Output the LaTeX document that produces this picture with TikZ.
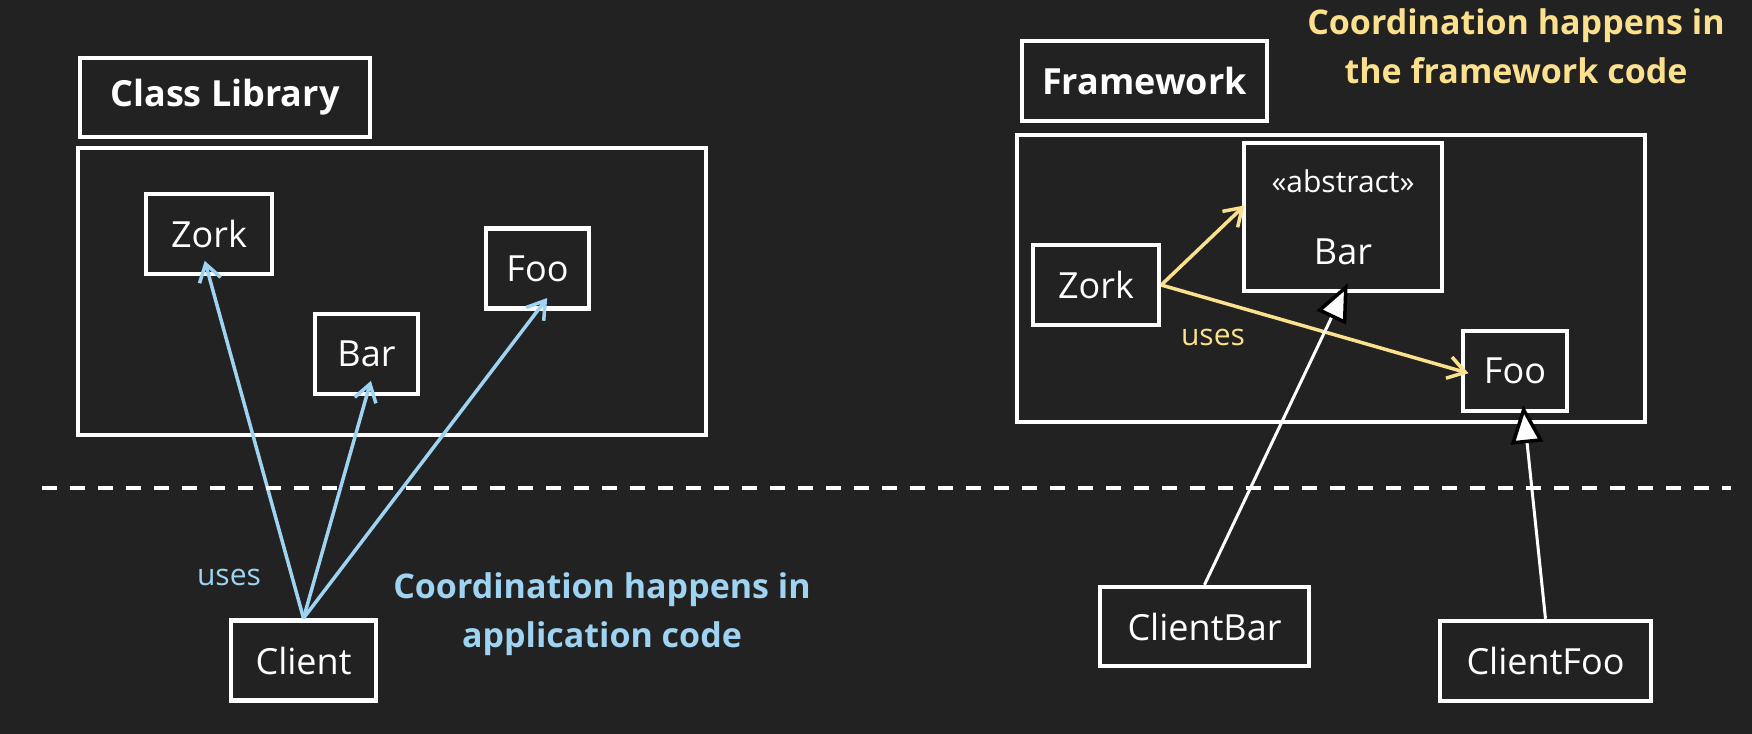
\documentclass[tikz,border=0pt]{standalone}
\usepackage{fontspec}
\setmainfont{Open Sans}
\usetikzlibrary{arrows.meta}
\definecolor{fond}{HTML}{222222}
\definecolor{bleu}{HTML}{9FD3F2}
\definecolor{jaune}{HTML}{FBE08D}
\newcommand{\grand}{\fontsize{18}{22}\selectfont}
\newcommand{\moyen}{\fontsize{17}{24.5}\selectfont}
\newcommand{\petit}{\fontsize{15}{18}\selectfont}

\begin{document}
\begin{tikzpicture}[x=0.5pt,y=-0.5pt,
  boite/.style={draw=white,line width=2.25pt,text=white,inner sep=0pt,minimum height=40pt,font=\grand},
  titre/.style={boite,font=\grand\bfseries},
  usage/.style={line width=1.75pt,-{Straight Barb[length=8.5pt,width=11pt]}},
  herite/.style={white,line width=1.5pt,-{Triangle[length=19pt,width=16pt,fill=white,color=black,line width=1.75pt]}},
  note/.style={font=\moyen\bfseries,align=center}]
\useasboundingbox (0,0) rectangle (1752,734);
\fill[fond] (0,0) rectangle (1752,734);

% Bibliothèque de classes
\node[titre,minimum width=145pt,minimum height=39.5pt] (ltitre) at (225,97.5) {Class Library};
\node[boite,minimum width=314pt,minimum height=143.5pt] (lcadre) at (392,291.5) {};
\node[boite,minimum width=63pt] (lzork) at (209,234) {Zork};
\node[boite,minimum width=51.5pt] (lfoo) at (537.5,268.5) {Foo};
\node[boite,minimum width=51.5pt] (lbar) at (366.5,354) {Bar};
\node[boite,minimum width=72.5pt] (client) at (303.5,660.5) {Client};

% Application
\foreach \cible in {lzork,lbar,lfoo}
  \draw[usage,bleu,shorten >=-8pt] (client.north) -- (\cible.south);
\node[text=bleu,font=\petit] (lusage) at (229,577) {uses};
\node[note,text=bleu] (lnote) at (602,614) {Coordination happens in\\application code};

% Framework
\node[titre,minimum width=122.5pt] (ftitre) at (1144.5,81) {Framework};
\node[boite,minimum width=314pt,minimum height=143.5pt] (fcadre) at (1331,278.5) {};
\node[boite,minimum width=99pt,minimum height=74pt,align=center] (fbar) at (1343,217)
     {{\petit «abstract»}\\[14pt]Bar};
\node[boite,minimum width=63pt] (fzork) at (1096,285) {Zork};
\node[boite,minimum width=52pt] (ffoo) at (1515,371) {Foo};
\node[boite,minimum width=104.5pt,minimum height=39.5pt] (cbar) at (1204.5,626.5) {ClientBar};
\node[boite,minimum width=105.5pt] (cfoo) at (1545.5,661) {ClientFoo};

% Utilisation et héritage
\draw[usage,jaune,shorten >=-2pt] (fzork.east) -- (fbar.175);
\draw[usage,jaune,shorten >=-4pt] (fzork.east) -- (ffoo.west);
\node[text=jaune,font=\petit] (fusage) at (1213,337) {uses};
\draw[herite,shorten >=-5.5pt] (cbar.north) -- (fbar.south);
\draw[herite,shorten >=-4pt] (cfoo.north) -- (ffoo.-78);
\node[note,text=jaune] (fnote) at (1516,46) {Coordination happens in\\the framework code};

% Séparation
\draw[white,line width=2pt,dash pattern=on 7.5pt off 6.5pt] (42,488) -- (1731,488);

\end{tikzpicture}
\end{document}
